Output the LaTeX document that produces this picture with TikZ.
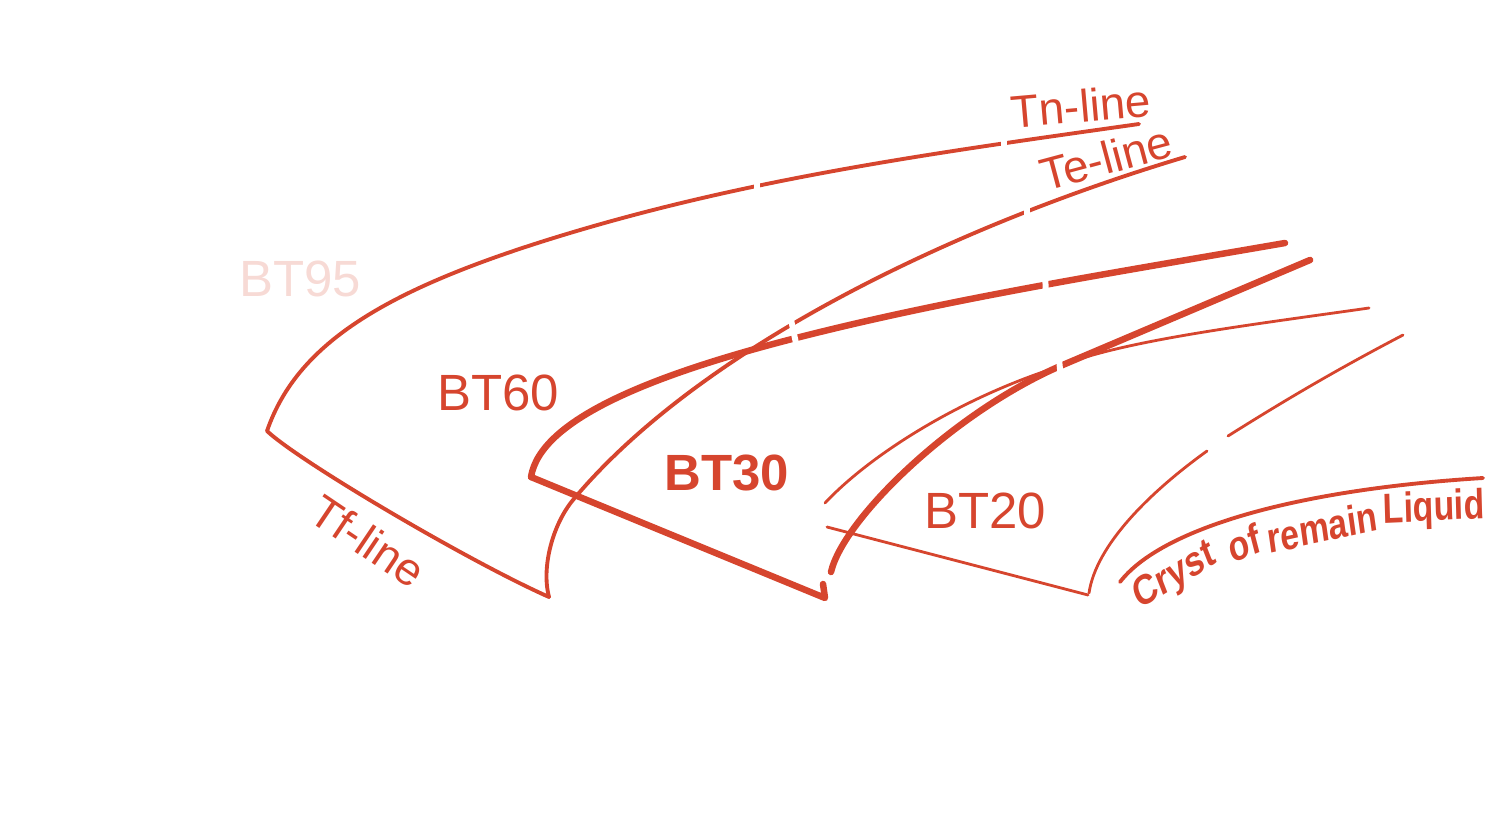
\documentclass[tikz,border=0pt]{standalone}
\usepackage{fontspec}
\setmainfont{Liberation Sans}
\usetikzlibrary{
    positioning,  % Relative positioning
    calc          % Coordinate calculations
}
\definecolor{ScanRed}{RGB}{214,69,46}
\tikzset{phase line/.style={
    draw=ScanRed,
    line width=2.2pt,
    line cap=round,
    line join=round
}}
\tikzset{phase line thin/.style={
    phase line,
    line width=1.6pt
}}
\tikzset{phase line thick/.style={
    phase line,
    line width=3.7pt
}}
\tikzset{field label/.style={
    text=ScanRed,
    inner sep=0pt,
    font=\fontsize{29}{30}\selectfont
}}
\tikzset{curve label/.style={
    text=ScanRed,
    inner sep=0pt,
    font=\fontsize{26}{27}\selectfont
}}
\tikzset{cryst label/.style={
    text=ScanRed,
    inner sep=0pt,
    xscale=0.8,
    font=\bfseries\fontsize{24}{25}\selectfont
}}
\tikzset{scan gap/.style={
    draw=white,
    line width=3.4pt
}}

\begin{document}
\begin{tikzpicture}[x=0.02cm,y=-0.02cm]
    \useasboundingbox (0,0) rectangle (1500,817);

    \coordinate (tn tip) at (267,431);
    \coordinate (tn end) at (1139,124);
    \coordinate (tf end) at (549,597);
    \coordinate (te end) at (1185,157);
    \coordinate (bt tip) at (531,477);
    \coordinate (bt60 end) at (1285,243);
    \coordinate (bt30 end) at (825,598);
    \coordinate (bt30 top) at (1310,260);
    \coordinate (bt20 start) at (827,527);
    \coordinate (bt20 end) at (1088,595);
    \coordinate (merge) at (1058,367);

    % Tn / Tf outline
    \draw[phase line] (tn tip) .. controls (298,341) and (390,287) .. (570,233)
        .. controls (760,176) and (949,151) .. (tn end);
    \draw[phase line] (tn tip) .. controls (300,462) and (470,562) .. (tf end);

    % Te-line
    \draw[phase line] (tf end) .. controls (541,567) and (553,524) .. (573,500)
        .. controls (693,356) and (935,232) .. (te end);

    % BT60 / BT30 thick
    \draw[phase line thick] (bt tip) .. controls (540,420) and (650,375) .. (800,337)
        .. controls (950,299) and (1100,275) .. (bt60 end);
    \draw[phase line thick] (bt tip) -- (bt30 end) -- (823,584);
    \draw[phase line thick] (831,572) .. controls (843,520) and (950,415) .. (merge) -- (bt30 top);

    % BT20 thin
    \draw[phase line thin] (825,503) .. controls (870,455) and (960,398) .. (merge)
        .. controls (1118,341) and (1250,325) .. (1369,308);
    \draw[phase line thin] (bt20 start) -- (bt20 end);
    \draw[phase line thin] (1089,593) .. controls (1096,545) and (1150,492) .. (1207,451);
    \draw[phase line thin] (1228,436) .. controls (1290,397) and (1340,368) .. (1403,335);

    % remain liquid
    \draw[phase line] (1120,582) .. controls (1160,530) and (1290,490) .. (1483,478);

    % breaks in the scan
    \draw[scan gap] (757,175) -- (757,197);
    \draw[scan gap] (1004,132) -- (1004,154);
    \draw[scan gap] (789,310) -- (797,348);
    \draw[scan gap] (1027,198) -- (1027,220);
    \draw[scan gap] (1045,272) -- (1046,296);
    \draw[scan gap] (1058,348) -- (1061,380);

    \node[field label, text=ScanRed!20] (bt95) at (300,279) {BT95};
    \node[field label] (bt60) at (498,393) {BT60};
    \node[field label, font=\bfseries\fontsize{29}{30}\selectfont] (bt30) at (727,473) {BT30};
    \node[field label] (bt20) at (985,511) {BT20};

    \node[curve label, rotate=5] (tn label) at (1081,106) {Tn-line};
    \node[curve label, rotate=15] (te label) at (1106,158) {Te-line};
    \node[curve label, rotate=-34] (tf label) at (368,541) {Tf-line};

    \node[cryst label, rotate=26] (cryst) at (1175,577) {Cryst};
    \node[cryst label, rotate=18] (cryst of) at (1244,543) {of};
    \node[cryst label, rotate=10] (cryst remain) at (1322,527) {remain};
    \node[cryst label, rotate=2] (cryst liquid) at (1434,510) {Liquid};
\end{tikzpicture}
\end{document}
